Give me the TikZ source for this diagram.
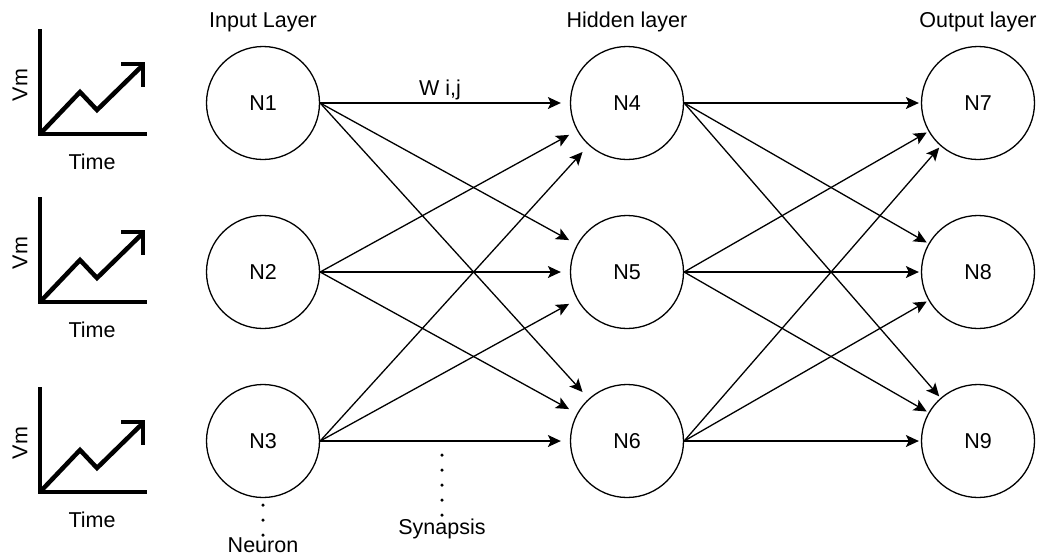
\documentclass[tikz,border=0pt]{standalone}
\usepackage{fontspec}
\setmainfont{Liberation Sans}
\usetikzlibrary{arrows.meta,positioning}

\begin{document}
\begin{tikzpicture}[x=1pt, y=-1pt, font=\fontsize{21.5}{24}\selectfont]
\tikzstyle{neuron} = [circle, draw, line width=1.3pt, minimum size=113pt, inner sep=0pt]
\tikzstyle{layer} = [inner sep=2pt]
\tikzstyle{arrow} = [-{Stealth[length=13pt,width=12pt,inset=3pt]}, line width=1.3pt]
\tikzstyle{dots} = [line width=3.5pt, line cap=round, dash pattern=on 0pt off 15pt]
\tikzstyle{icon} = [line width=4.5pt]

\useasboundingbox (0,0) rectangle (1041,558);

% membrane potential icons
\foreach \dy [count=\i] in {0,168,358} {
  \draw[icon] (40,29+\dy) -- (40,134+\dy) -- (147,134+\dy);
  \draw[icon] (40,134+\dy) -- (80,92+\dy) -- (97,110+\dy) -- (143,65+\dy);
  \draw[icon] (121,64+\dy) -- (143,64+\dy) -- (143,87+\dy);
  \node (vm\i) [rotate=90] at (20,85+\dy) {Vm};
  \node (time\i) at (92,162+\dy) {Time};
}

\node (n1) [neuron] at (263,103) {N1};
\node (n2) [neuron] at (263,272) {N2};
\node (n3) [neuron] at (263,441) {N3};
\node (n4) [neuron] at (627,103) {N4};
\node (n5) [neuron] at (627,272) {N5};
\node (n6) [neuron] at (627,441) {N6};
\node (n7) [neuron] at (978,103) {N7};
\node (n8) [neuron] at (978,272) {N8};
\node (n9) [neuron] at (978,441) {N9};

\node (inlbl) [layer, above=12pt of n1] {Input Layer};
\node (hidlbl) [layer, above=12pt of n4] {Hidden layer};
\node (outlbl) [layer, above=12pt of n7] {Output layer};

% input -> hidden
\draw[arrow, shorten >=9pt] (n1.east)--node[above, inner sep=2pt, pos=0.48]{W i,j}(n4);
\draw[arrow, shorten >=9pt] (n1.east)--(n5); \draw[arrow, shorten >=9pt] (n1.east)--(n6);
\draw[arrow, shorten >=9pt] (n2.east)--(n4); \draw[arrow, shorten >=9pt] (n2.east)--(n5);
\draw[arrow, shorten >=9pt] (n2.east)--(n6);
\draw[arrow, shorten >=9pt] (n3.east)--(n4); \draw[arrow, shorten >=9pt] (n3.east)--(n5);
\draw[arrow, shorten >=9pt] (n3.east)--(n6);
% hidden -> output
\draw[arrow, shorten >=2pt] (n4.east)--(n7); \draw[arrow, shorten >=2pt] (n4.east)--(n8);
\draw[arrow, shorten >=2pt] (n4.east)--(n9);
\draw[arrow, shorten >=2pt] (n5.east)--(n7); \draw[arrow, shorten >=2pt] (n5.east)--(n8);
\draw[arrow, shorten >=2pt] (n5.east)--(n9);
\draw[arrow, shorten >=2pt] (n6.east)--(n7); \draw[arrow, shorten >=2pt] (n6.east)--(n8);
\draw[arrow, shorten >=2pt] (n6.east)--(n9);

% annotations
\node (neulbl) [layer] at (263,545) {Neuron};
\draw[dots, shorten <=7pt] (n3.south) -- (neulbl.north);
\coordinate (syn) at (442,455);
\node (synlbl) [layer] at (442,529) {Synapsis};
\draw[dots] (syn) -- (synlbl.north);
\end{tikzpicture}
\end{document}
